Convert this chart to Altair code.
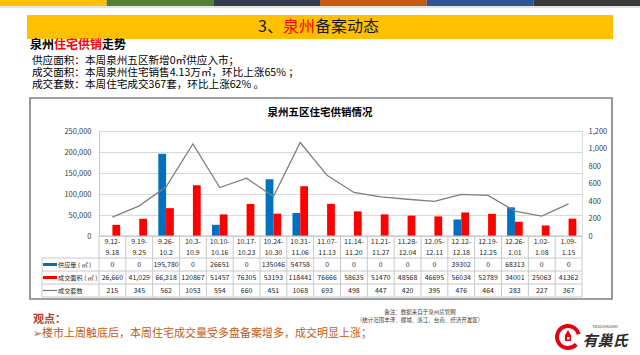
import altair as alt
import pandas as pd

# ---------------- data ----------------
weeks = ["9.12-9.18", "9.19-9.25", "9.26-10.2", "10.3-10.9", "10.10-10.16", "10.17-10.23",
         "10.24-10.30", "10.31-11.06", "11.07-11.13", "11.14-11.20", "11.21-11.27", "11.28-12.04",
         "12.05-12.11", "12.12-12.18", "12.19-12.25", "12.26-1.01", "1.02-1.08", "1.09-1.15"]
supply = [0, 0, 195780, 0, 26651, 0, 135046, 54758, 0, 0, 0, 0, 0, 39302, 0, 68313, 0, 0]
area = [26660, 41029, 66318, 120867, 51457, 76305, 53193, 118441, 76666, 58635, 51470, 48568,
        46695, 56034, 52789, 34001, 25063, 41362]
units = [215, 345, 562, 1053, 554, 660, 451, 1068, 693, 498, 447, 420, 395, 476, 464, 283, 227, 367]
series_names = ["供应量", "成交面积"]
left_ticks = [0, 50000, 100000, 150000, 200000, 250000]
right_ticks = [0, 200, 400, 600, 800, 1000, 1200]

# ---------------- layout ----------------
L, T = 99, 131          # plot origin on the 640x355 page
PW, PH = 483, 105       # plot size
FONT = "Noto Sans CJK SC"
GRID = "#C8C8C8"

one = pd.DataFrame({"a": [0]})


def fmt(v, i):
    return f"{v:,}" if i < 3 else str(v)


table = pd.DataFrame({
    "week": weeks,
    "l1": [w.split("-")[0] + "-" for w in weeks],
    "l2": [w.split("-")[1] for w in weeks],
    "s": [fmt(v, i) for i, v in enumerate(supply)],
    "a": [fmt(v, i) for i, v in enumerate(area)],
    "u": [str(v) for v in units],
    "units": units,
})

xscale = alt.Scale(domain=weeks, paddingInner=0.42, paddingOuter=0.21)
X = alt.X("week:N", sort=weeks, scale=xscale, axis=None)


def txt(s, x, y, size=11, color="#000000", bold=False, align="left", baseline="middle", **kw):
    return alt.Chart(one).mark_text(
        text=s, align=align, baseline=baseline, fontSize=size, color=color, font=FONT,
        fontWeight="bold" if bold else "normal", **kw
    ).encode(x=alt.value(x - L), y=alt.value(y - T))


def rect(x1, y1, x2, y2, fill, stroke=None, sw=0, opacity=1, fillOpacity=1):
    kw = dict(fill=fill, opacity=opacity, fillOpacity=fillOpacity)
    if stroke:
        kw.update(stroke=stroke, strokeWidth=sw)
    return alt.Chart(one).mark_rect(**kw).encode(
        x=alt.value(x1 - L), x2=alt.value(x2 - L), y=alt.value(y1 - T), y2=alt.value(y2 - T))


def hline(x1, x2, y, color=GRID, w=1):
    return alt.Chart(one).mark_rule(color=color, strokeWidth=w).encode(
        x=alt.value(x1 - L), x2=alt.value(x2 - L), y=alt.value(y - T))


layers = []

# top colour stripe
stripe_cols = ["#FFC000", "#548235", "#333F50", "#C55A11", "#2F5597", "#3A3A3A"]
for i, c in enumerate(stripe_cols):
    layers.append(rect(i * 640 / 6, 0, (i + 1) * 640 / 6, 6, c))
layers.append(rect(0, 6, 640, 8, "#D0D0D0", opacity=0.6))

# banner
layers.append(rect(27, 15, 613, 39, "#FFC000"))
x0 = 283
layers.append(txt("3、", x0, 27, 16, "#1A1A1A", align="right"))
layers.append(txt("泉州", x0, 27, 16, "#FF0000"))
layers.append(txt("备案动态", x0 + 32, 27, 16, "#1A1A1A"))

# subtitle and summary lines
layers.append(txt("泉州", 30, 45, 12, "#000000", bold=True))
layers.append(txt("住宅供销", 54, 45, 12, "#FF0000", bold=True))
layers.append(txt("走势", 102, 45, 12, "#000000", bold=True))
layers.append(txt("供应面积：本周泉州五区新增0㎡供应入市；", 32, 60.5, 10.6))
layers.append(txt("成交面积：本周泉州住宅销售4.13万㎡，环比上涨65% ；", 32, 72.5, 10.6))
layers.append(txt("成交套数：本周住宅成交367套，环比上涨62% 。", 32, 84.5, 10.6))

# chart frame (stroke only so the axes behind stay visible)
layers.append(rect(30, 98, 612, 299, "#FFFFFF", stroke="#7F7F7F", sw=1.6, fillOpacity=0))
layers.append(txt("泉州五区住宅供销情况", 320, 113, 10.5, "#000000", bold=True, align="center"))

# bars
bars_df = pd.DataFrame({
    "week": weeks * 2,
    "series": [series_names[0]] * len(weeks) + [series_names[1]] * len(weeks),
    "value": supply + area,
})
bars = alt.Chart(bars_df).mark_bar().encode(
    x=X,
    xOffset=alt.XOffset("series:N", sort=series_names, scale=alt.Scale(domain=series_names, paddingInner=0)),
    y=alt.Y("value:Q", scale=alt.Scale(domain=[0, 250000]),
            axis=alt.Axis(values=left_ticks, format=",d", title=None, labelFontSize=7.5,
                          labelColor="#404040", labelFont=FONT, ticks=False, domain=True,
                          domainColor=GRID, gridColor="#D9D9D9", labelPadding=8)),
    color=alt.Color("series:N", scale=alt.Scale(domain=series_names, range=["#0070C0", "#FF0000"]),
                    legend=None),
)

line = alt.Chart(table).mark_line(color="#7F7F7F", strokeWidth=1.3).encode(
    x=X,
    y=alt.Y("units:Q", scale=alt.Scale(domain=[0, 1200]),
            axis=alt.Axis(orient="right", values=right_ticks, format=",d", title=None,
                          labelFontSize=7.5, labelColor="#404040", labelFont=FONT, ticks=False,
                          domain=False, grid=False, labelPadding=6)),
)

# data table grid
step = PW / len(weeks)
vl = pd.DataFrame({"px": [i * step for i in range(len(weeks) + 1)]})
vlines = alt.Chart(vl).mark_rule(color=GRID, strokeWidth=1).encode(
    x=alt.X("px:Q", scale=None), y=alt.value(PH), y2=alt.value(297 - T))
leftv = alt.Chart(one).mark_rule(color=GRID, strokeWidth=1).encode(
    x=alt.value(42 - L), y=alt.value(258 - T), y2=alt.value(297 - T))
rows_y = [258, 271, 284, 297]
hlines = [hline(42, L + PW, y) for y in rows_y]
bottom_axis = hline(L, L + PW, T + PH, color="#BFBFBF")


def row_text(field, y):
    return alt.Chart(table).mark_text(fontSize=7, color="#262626", font=FONT, baseline="middle").encode(
        x=X, y=alt.value(y - T), text=f"{field}:N")


cat1 = row_text("l1", 242)
cat2 = row_text("l2", 253)
r1 = row_text("s", 264.5)
r2 = row_text("a", 277.5)
r3 = row_text("u", 290.5)

legend_items = [
    rect(43, 263, 57, 266, "#0070C0"),
    rect(43, 276, 57, 279, "#FF0000"),
    hline(43, 57, 290.5, color="#7F7F7F", w=1.3),
    txt("供应量 ( ㎡ )", 58, 264.5, 6.2, "#262626"),
    txt("成交面积 ( ㎡ )", 58, 277.5, 6.2, "#262626"),
    txt("成交套数", 58, 290.5, 6.2, "#262626"),
]

# notes
notes = [
    txt("备注：数据来自于泉州房管网", 420, 312, 5.5, "#404040", align="center"),
    txt("（统计范围丰泽、鲤城、洛江、台商、经济开发区）", 420, 320, 5.5, "#404040", align="center"),
    txt("观点：", 33, 320, 11, "#B0422B", bold=True),
    txt("➢楼市上周触底后，本周住宅成交量受多盘备案增多，成交明显上涨；", 33, 334, 11, "#C55A11"),
]

# logo
logo = [
    alt.Chart(one).mark_arc(color="#E60012", theta=2.3, theta2=7.6, radius=13, radius2=9).encode(
        x=alt.value(568 - L), y=alt.value(337 - T)),
    alt.Chart(one).mark_point(shape="triangle-up", filled=True, color="#E60012", size=45, opacity=1).encode(
        x=alt.value(568 - L), y=alt.value(333 - T)),
    rect(565, 335, 571, 341, "#E60012"),
    rect(567, 337, 569.5, 339.5, "#FFFFFF"),
    txt("YOUCHAOSHI", 605, 326.5, 4, "#333333", align="center"),
    txt("有巢氏", 605, 341, 15, "#2B2B2B", bold=True, align="center", fontStyle="italic"),
]

front = [bars, line, vlines, leftv] + hlines + [bottom_axis, cat1, cat2, r1, r2, r3] + legend_items + notes + logo

chart = alt.layer(*layers, *front).resolve_scale(y="independent").properties(
    width=PW, height=PH,
    padding={"left": L, "top": T, "right": 640 - L - PW, "bottom": 355 - T - PH},
    autosize="none",
    background="#FFFFFF",
).configure_view(stroke=None).configure(font=FONT)

chart.save("out.html", embed_options={"renderer": "svg", "actions": False})
